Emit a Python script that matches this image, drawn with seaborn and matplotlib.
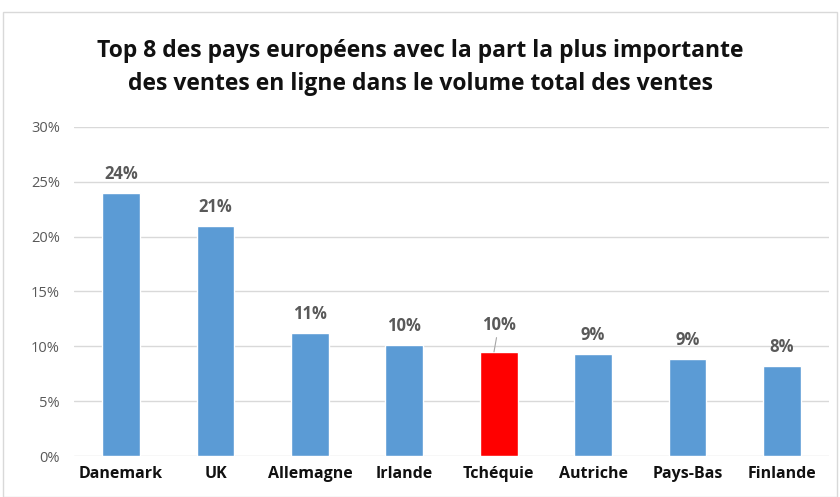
import matplotlib
matplotlib.use("Agg")
import matplotlib.pyplot as plt
import seaborn as sns
import pandas as pd
from matplotlib.patches import Rectangle

# ─── DATA ───────────────────────────────────────────────────────────────────

countries = ["Danemark", "UK", "Allemagne", "Irlande", "Tchéquie",
             "Autriche", "Pays-Bas", "Finlande"]
shares = [24.0, 21.0, 11.25, 10.1, 9.5, 9.33, 8.85, 8.24]
labels = ["24%", "21%", "11%", "10%", "10%", "9%", "9%", "8%"]
highlight = "Tchéquie"
y_ticks = [0, 5, 10, 15, 20, 25, 30]

BLUE = "#5B9BD5"
RED = "#FF0000"
GREY = "#595959"

df = pd.DataFrame({"country": countries, "share": shares})
palette = {c: (RED if c == highlight else BLUE) for c in countries}

sns.set_style("white")
plt.rcParams["font.family"] = ["Open Sans", "DejaVu Sans"]

fig, ax = plt.subplots(figsize=(8.4, 4.97), dpi=100)
fig.subplots_adjust(left=0.088, right=0.987, top=0.745, bottom=0.082)

sns.barplot(data=df, x="country", y="share", hue="country", palette=palette,
            width=0.4, legend=False, ax=ax, saturation=1)

ax.set_ylim(0, 30)
ax.set_xlim(-0.5, len(countries) - 0.5)
ax.set_yticks(y_ticks)
ax.set_yticklabels([f"{t}%" for t in y_ticks], color=GREY, fontsize=10.5)
ax.set_xlabel("")
ax.set_ylabel("")
ax.tick_params(axis="x", length=0, pad=7)
ax.tick_params(axis="y", length=0, pad=10)
for t in ax.get_xticklabels():
    t.set_fontweight("bold")
    t.set_fontsize(11.5)
    t.set_color("#111111")

ax.yaxis.grid(True, color="#D9D9D9", linewidth=1)
ax.set_axisbelow(True)
for s in ax.spines.values():
    s.set_visible(False)

# data labels
for i, (val, lab) in enumerate(zip(shares, labels)):
    if countries[i] == highlight:
        ax.annotate(lab, xy=(i - 0.05, val), xytext=(i, val + 1.6),
                    ha="center", va="bottom", fontsize=12, fontweight="bold",
                    color=GREY,
                    arrowprops=dict(arrowstyle="-", color="#A6A6A6", lw=0.8,
                                    shrinkA=0, shrinkB=0))
    else:
        ax.text(i, val + 0.9, lab, ha="center", va="bottom",
                fontsize=12, fontweight="bold", color=GREY)

fig.text(0.5, 0.865, "Top 8 des pays européens avec la part la plus importante\n"
         "des ventes en ligne dans le volume total des ventes",
         ha="center", va="center", fontsize=16.5, fontweight="bold",
         color="#111111", linespacing=1.5)

# chart border
fig.patches.append(Rectangle((0.004, 0.0), 0.992, 0.975, transform=fig.transFigure,
                             fill=False, edgecolor="#D9D9D9", linewidth=1))

fig.savefig("out.png", dpi=100)
